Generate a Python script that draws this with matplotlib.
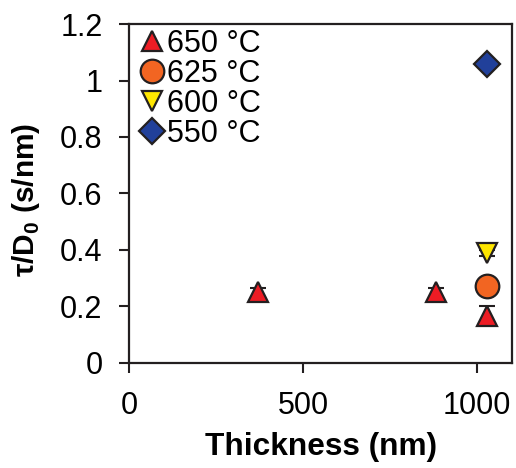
"""
Relaxation time over diffusivity vs. film thickness.
"""
import matplotlib
matplotlib.use("Agg")
import matplotlib.pyplot as plt
from matplotlib.ticker import FuncFormatter

plt.rcParams['font.family'] = ['Liberation Sans', 'DejaVu Sans']
plt.rcParams['mathtext.fontset'] = 'custom'
plt.rcParams['mathtext.rm'] = 'Liberation Sans'
plt.rcParams['mathtext.bf'] = 'Liberation Sans:bold'

# Data
labels = ['650 °C', '625 °C', '600 °C', '550 °C']
thickness = [[372, 882, 1029], [1029], [1029], [1029]]
tau_d0 = [[0.251, 0.251, 0.168], [0.273], [0.389], [1.058]]
tau_err = [[0.016, 0.016, 0.034], [0.01], [0.01], [0.0]]

markers = ['^', 'o', 'v', 'D']
colors = ['#ED1C24', '#F26522', '#FFE600', '#21409A']
sizes = [14, 17, 14, 13]
edge = '#231F20'

fig = plt.figure(figsize=(5.16, 4.68), dpi=100)
ax = fig.add_axes([0.25, 0.2244, 0.742, 0.7243])

for x, y, e, m, c, s, lab in zip(thickness, tau_d0, tau_err, markers, colors, sizes, labels):
    if max(e) > 0:
        ax.errorbar(x, y, yerr=e, fmt='none', ecolor=edge, elinewidth=1.5,
                    capsize=5.5, capthick=1.5, zorder=2)
    ax.plot(x, y, linestyle='none', marker=m, markersize=s, markerfacecolor=c,
            markeredgecolor=edge, markeredgewidth=1.6, label=lab, zorder=3)

ax.set_xlim(0, 1100)
ax.set_ylim(0, 1.2)
ax.set_xticks([0, 500, 1000])
ax.set_yticks([0, 0.2, 0.4, 0.6, 0.8, 1.0, 1.2])
ax.yaxis.set_major_formatter(FuncFormatter(lambda v, p: '%g' % round(v, 2)))

for sp in ax.spines.values():
    sp.set_linewidth(1.6)
    sp.set_color(edge)
ax.tick_params(direction='out', length=7, width=1.5, labelsize=22, color=edge, pad=12)
ax.tick_params(axis='x', pad=13)

ax.set_xlabel('Thickness (nm)', fontsize=22.8, fontweight='bold')
ax.xaxis.set_label_coords(0.501, -0.205)
ax.set_ylabel(r'τ/D$_\mathbf{0}$ (s/nm)', fontsize=21.5, fontweight='bold')
ax.yaxis.set_label_coords(-0.227, 0.48)

ax.legend(loc='upper left', frameon=False, fontsize=22, handletextpad=-0.1,
          handlelength=1.2, labelspacing=0.0, borderaxespad=0.05, borderpad=0.1)

fig.savefig('out.png', dpi=100)
